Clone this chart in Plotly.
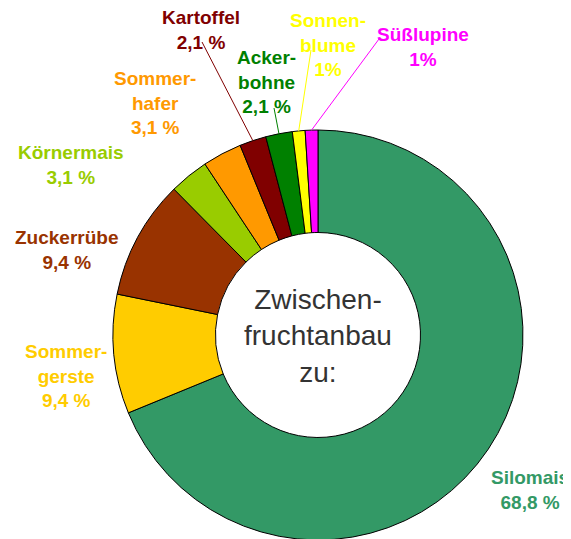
import math
import plotly.graph_objects as go

# ---- data ----
categories = ["Silomais", "Sommergerste", "Zuckerrübe", "Körnermais", "Sommerhafer",
              "Kartoffel", "Ackerbohne", "Sonnenblume", "Süßlupine"]
values = [68.8, 9.4, 9.4, 3.1, 3.1, 2.1, 2.1, 1.0, 1.0]
label_texts = ["Silomais<br>68,8 %", "Sommer-<br>gerste<br>9,4 %", "Zuckerrübe<br>9,4 %",
               "Körnermais<br>3,1 %", "Sommer-<br>hafer<br>3,1 %", "Kartoffel<br>2,1 %",
               "Acker-<br>bohne<br>2,1 %", "Sonnen-<br>blume<br>1%", "Süßlupine<br>1%"]
colors = ["#339966", "#FFCC00", "#993300", "#99CC00", "#FF9900",
          "#800000", "#008000", "#FFFF00", "#FF00FF"]
center_text = "Zwischen-<br>fruchtanbau<br>zu:"

# ---- layout constants (screen pixels) ----
W, H = 571, 539
OFF = 8  # page body margin
CX, CY, R = 318, 335, 205
label_pos = [(530, 490), (66, 376), (66, 250), (71, 165), (155, 103),
             (201, 30), (266, 82), (328, 45), (423, 47)]
leader_start = [None, None, None, None, None,
                (202, 42), (274, 108), (311, 50), (379, 39)]


def px(x):
    return (x - OFF) / W


def py(y):
    return 1 - (y - OFF) / H


fig = go.Figure(go.Pie(
    labels=categories, values=values, sort=False, direction="clockwise", rotation=0,
    hole=0.5, textinfo="none", hoverinfo="label+percent",
    marker=dict(colors=colors, line=dict(color="#000000", width=1)),
    domain=dict(x=[px(CX - R), px(CX + R)], y=[py(CY + R), py(CY - R)]),
    showlegend=False,
))

annotations = []
shapes = []
total = sum(values)
cum = 0.0
for i, v in enumerate(values):
    mid = (cum + v / 2) / total * 360.0
    cum += v
    lx, ly = label_pos[i]
    annotations.append(dict(
        x=px(lx), y=py(ly), xref="paper", yref="paper", text="<b>" + label_texts[i] + "</b>",
        showarrow=False, xanchor="center", yanchor="middle", align="center",
        font=dict(family="Liberation Sans, Arial", size=19, color=colors[i]),
    ))
    if leader_start[i] is not None:
        sx, sy = leader_start[i]
        ex = CX + R * math.sin(math.radians(mid))
        ey = CY - R * math.cos(math.radians(mid))
        shapes.append(dict(type="line", xref="paper", yref="paper",
                           x0=px(sx), y0=py(sy), x1=px(ex), y1=py(ey),
                           line=dict(color=colors[i], width=1)))

annotations.append(dict(
    x=px(CX), y=py(336), xref="paper", yref="paper", text=center_text,
    showarrow=False, xanchor="center", yanchor="middle", align="center",
    font=dict(family="Liberation Sans, Arial", size=28, color="#333333"),
))

fig.update_layout(
    width=W, height=H, margin=dict(l=0, r=0, t=0, b=0),
    paper_bgcolor="white", plot_bgcolor="white",
    annotations=annotations, shapes=shapes,
)
fig.write_html("out.html")
